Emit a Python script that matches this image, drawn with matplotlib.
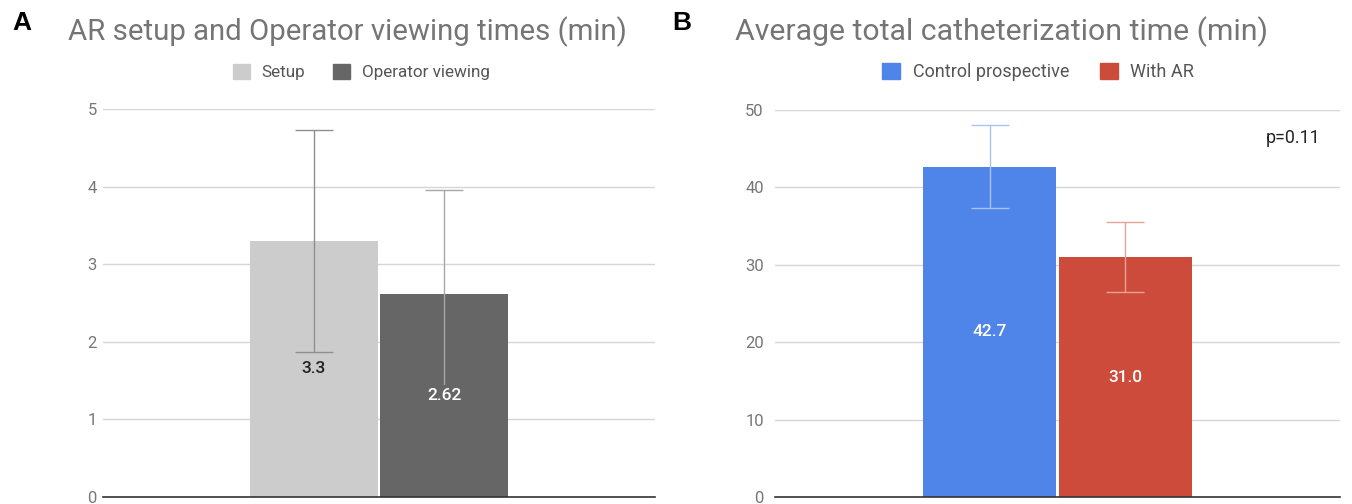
import matplotlib.pyplot as plt
import numpy as np

# ---------------- data
setup_labels = ['Setup', 'Operator viewing']
setup_vals = [3.3, 2.62]
setup_errs = [1.43, 1.33]
setup_text = ['3.3', '2.62']

cath_labels = ['Control prospective', 'With AR']
cath_vals = [42.7, 31.0]
cath_errs = [5.35, 4.55]
cath_text = ['42.7', '31.0']

ticks_a = [0, 1, 2, 3, 4, 5]
ticks_b = [0, 10, 20, 30, 40, 50]

plt.rcParams['font.family'] = ['Roboto', 'DejaVu Sans']

W, H = 1352, 504
fig = plt.figure(figsize=(W / 100, H / 100), dpi=100)


def px_axes(x0, x1, ytop, ybot):
    return fig.add_axes([x0 / W, (H - ybot) / H, (x1 - x0) / W, (ybot - ytop) / H])


def panel(ax, vals, errs, text, colors, ecolors, txtcolors, ticks, bw, off, pad):
    xs = np.array([-off, off])
    bars = ax.bar(xs, vals, width=bw, color=colors, zorder=2)
    for x, v, e, ec in zip(xs, vals, errs, ecolors):
        ax.errorbar(x, v, yerr=e, fmt='none', ecolor=ec, elinewidth=1,
                    capsize=13.5, capthick=1, zorder=3)
    # value label sits on top of the interval line, like the original
    for b, t, c, fc in zip(bars, text, txtcolors, colors):
        ax.text(b.get_x() + b.get_width() / 2, b.get_height() / 2, t,
                ha='center', va='center', color=c, fontsize=12.5,
                fontweight='medium', zorder=4,
                bbox=dict(boxstyle='square,pad=0.15', fc=fc, ec='none'))
    ax.set_xlim(-0.5, 0.5)
    ax.set_ylim(ticks[0], ticks[-1])
    ax.set_yticks(ticks)
    ax.set_xticks([])
    for s in ax.spines.values():
        s.set_visible(False)
    ax.yaxis.grid(True, color='#d6d6d6', linewidth=1, zorder=0)
    ax.set_axisbelow(True)
    ax.axhline(0, color='#333333', linewidth=1.2, zorder=5, clip_on=False)
    ax.tick_params(axis='y', length=0, pad=pad, labelsize=12, labelcolor='#777777')


# ---------------- panel A
axA = px_axes(103, 655, 109, 497)
panel(axA, setup_vals, setup_errs, setup_text,
      ['#cccccc', '#666666'], ['#8f8f8f', '#a8a8a8'], ['#222222', 'white'],
      ticks_a, 0.231, 0.118, 4.5)

# ---------------- panel B
axB = px_axes(775, 1340, 110, 497)
panel(axB, cath_vals, cath_errs, cath_text,
      ['#4f84e8', '#cc4b3a'], ['#a9c3f4', '#e8a296'], ['white', 'white'],
      ticks_b, 0.236, 0.12, 8)
axB.text(1320 / W, 1 - 138 / H, 'p=0.11', transform=fig.transFigure,
         ha='right', va='center', fontsize=12.8, color='#222222')

# ---------------- titles
fig.text(12 / W, 1 - 23 / H, 'A', fontsize=19, fontweight='bold',
         family=['Liberation Sans'], va='center', color='black')
fig.text(672 / W, 1 - 23 / H, 'B', fontsize=19, fontweight='bold',
         family=['Liberation Sans'], va='center', color='black')
fig.text(68 / W, 1 - 32 / H, 'AR setup and Operator viewing times (min)',
         fontsize=21.2, color='#757575', va='center')
fig.text(735 / W, 1 - 32 / H, 'Average total catheterization time (min)',
         fontsize=21.8, color='#757575', va='center')

# ---------------- legends
def legend(ax, labels, colors, cx, fs, cs):
    handles = [plt.Rectangle((0, 0), 1, 1, color=c) for c in colors]
    ax.legend(handles, labels, loc='center', bbox_to_anchor=(cx / W, 1 - 72 / H),
              bbox_transform=fig.transFigure, ncol=2, frameon=False,
              fontsize=fs, labelcolor='#555555', handlelength=1.0,
              handleheight=1.0, handletextpad=0.7, columnspacing=cs)


legend(axA, setup_labels, ['#cccccc', '#666666'], 361, 12.3, 1.6)
legend(axB, cath_labels, ['#4f84e8', '#cc4b3a'], 1038, 13, 1.7)

plt.savefig('out.png', dpi=100)
